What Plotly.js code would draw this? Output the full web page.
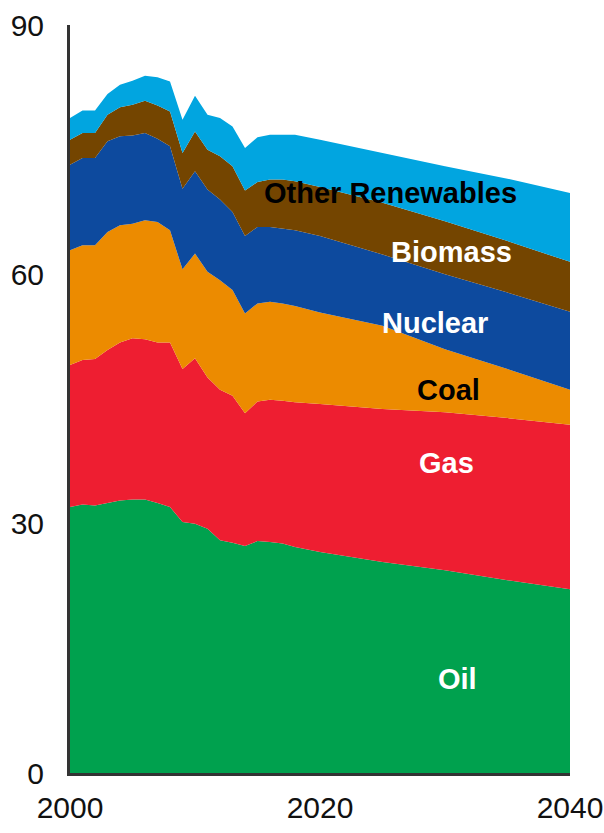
<!DOCTYPE html>
<html>
<head>
<meta charset="utf-8">
<script src="https://cdn.plot.ly/plotly-3.0.1.min.js"></script>
<style>html,body{margin:0;padding:0;background:#fff;}#chart{width:604px;height:833px;}</style>
</head>
<body>
<div id="chart"></div>
<script>
const years = [2000,2001,2002,2003,2004,2005,2006,2007,2008,2009,2010,2011,2012,2013,2014,2015,2016,2017,2018,2020,2025,2030,2035,2040];
const oil      = [32.0,32.3,32.2,32.5,32.8,32.9,32.9,32.5,32.0,30.2,30.0,29.4,28.0,27.7,27.3,27.9,27.8,27.6,27.2,26.6,25.4,24.4,23.2,22.1];
const gas      = [17.1,17.4,17.6,18.4,19.0,19.4,19.3,19.3,19.8,18.4,19.9,18.2,18.1,17.7,16.0,16.8,17.1,17.2,17.4,17.8,18.4,19.0,19.5,19.8];
const coal     = [13.8,13.8,13.7,14.2,14.1,13.8,14.3,14.5,13.5,12.0,12.6,12.7,13.2,12.7,12.0,11.8,11.8,11.7,11.6,11.0,10.0,7.6,5.9,4.2];
const nuclear  = [10.3,10.5,10.5,10.9,10.7,10.6,10.5,10.0,10.1,9.7,9.9,9.9,9.7,9.4,9.3,9.2,9.0,9.0,9.1,9.2,8.6,9.0,9.2,9.4];
const biomass  = [3.0,3.0,3.0,3.2,3.5,3.7,3.9,4.0,4.2,4.3,4.8,4.8,5.2,5.5,5.5,5.4,5.7,5.9,5.9,5.9,6.2,6.4,6.2,6.0];
const otherRen = [2.6,2.7,2.7,2.5,2.7,2.9,3.0,3.4,3.6,4.0,4.3,4.2,4.6,4.8,5.1,5.4,5.4,5.4,5.6,5.7,6.0,6.6,7.5,8.3];

const seriesNames = ['Oil','Gas','Coal','Nuclear','Biomass','Other Renewables'];
const seriesData = [oil, gas, coal, nuclear, biomass, otherRen];
const colors = ['#00A14E','#EE1E31','#EC8B00','#0D4A9E','#744500','#01A5E0'];

const labelX = [2031.0, 2030.1, 2030.3, 2029.2, 2030.5, 2025.6];
const labelY = [11.3, 37.3, 46.1, 54.1, 62.7, 69.8];
const labelColors = ['#ffffff','#ffffff','#000000','#ffffff','#ffffff','#000000'];

const traces = seriesNames.map((n, i) => ({
  x: years, y: seriesData[i], name: n, type: 'scatter', mode: 'lines',
  stackgroup: 'one', line: {width: 0, color: colors[i]}, fillcolor: colors[i],
  hoverinfo: 'skip'
}));

const annotations = seriesNames.map((n, i) => ({
  x: labelX[i], y: labelY[i], xref: 'x', yref: 'y', text: '<b>' + n + '</b>',
  showarrow: false, font: {family: 'Liberation Sans, Arial, sans-serif', size: 29, color: labelColors[i]},
  xanchor: 'center', yanchor: 'middle'
}));

const tickFont = {family: 'Liberation Sans Narrow, Arial Narrow, Liberation Sans, Arial, sans-serif', size: 30, color: '#111'};

const layout = {
  width: 604, height: 833,
  margin: {l: 70, r: 34, t: 25, b: 60},
  paper_bgcolor: '#fff', plot_bgcolor: '#fff',
  showlegend: false,
  xaxis: {range: [2000, 2040], tickvals: [2000, 2020, 2040], ticktext: ['2000','2020','2040'],
    showgrid: false, zeroline: false, showline: true, linewidth: 3, linecolor: '#333',
    ticks: '', tickfont: tickFont, ticklabelstandoff: 6},
  yaxis: {range: [0, 90], tickvals: [0, 30, 60, 90], ticktext: ['0','30','60','90'],
    showgrid: false, zeroline: false, showline: true, linewidth: 3, linecolor: '#333',
    ticks: '', tickfont: tickFont, ticklabelstandoff: 17},
  annotations: annotations
};

Plotly.newPlot('chart', traces, layout, {displayModeBar: false, staticPlot: true});
</script>
</body>
</html>
